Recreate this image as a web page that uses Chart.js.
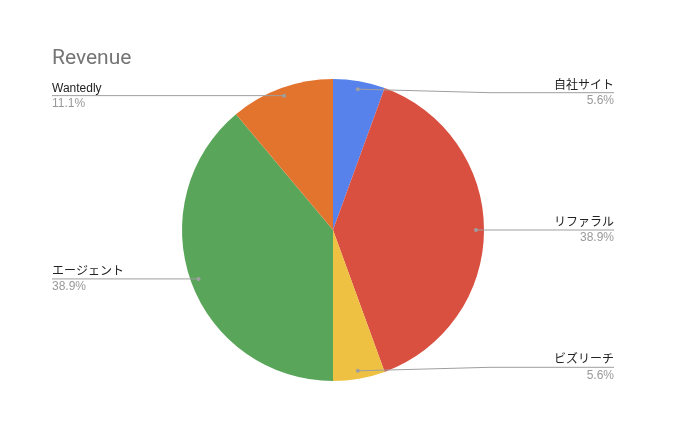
<!DOCTYPE html>
<html>
<head>
<meta charset="utf-8">
<script src="https://cdn.jsdelivr.net/npm/chart.js@4/dist/chart.umd.min.js"></script>
<style>
html,body{margin:0;padding:0;background:#fff;}
#wrap{width:680px;height:440px;position:relative;}
</style>
</head>
<body>
<div id="wrap"><canvas id="c" width="680" height="440"></canvas></div>
<script>
const titleText = 'Revenue';
const categories = ['自社サイト', 'リファラル', 'ビズリーチ', 'エージェント', 'Wantedly'];
const values = [1, 7, 1, 7, 2];
const colors = ['#5882eb', '#da5040', '#eec143', '#59a65b', '#e2742e'];

const FONT = 'Arial, "Liberation Sans", "Noto Sans CJK JP", sans-serif';

const labelPlugin = {
  id: 'sheetLabels',
  afterDraw(chart) {
    const ctx = chart.ctx;
    const meta = chart.getDatasetMeta(0);
    const total = values.reduce((a, b) => a + b, 0);
    // title
    ctx.save();
    ctx.font = '21px Roboto, Arial, sans-serif';
    ctx.fillStyle = '#757575';
    ctx.textBaseline = 'alphabetic';
    ctx.textAlign = 'left';
    ctx.fillText(titleText, 52, 64);
    ctx.restore();

    meta.data.forEach((arc, i) => {
      const p = arc.getProps(['x', 'y', 'startAngle', 'endAngle', 'outerRadius'], true);
      const mid = (p.startAngle + p.endAngle) / 2;
      const r = p.outerRadius * 0.947;
      const dx = Math.cos(mid) * r, dy = Math.sin(mid) * r;
      const dotX = p.x + dx, dotY = p.y + dy;
      const right = dx >= 0;
      const lineY = right ? p.y + dy * 0.975 : dotY;
      const endX = right ? 614 : 52;
      const kneeX = right ? 490 : 176;
      ctx.save();
      ctx.strokeStyle = '#9e9e9e';
      ctx.lineWidth = 1;
      ctx.beginPath();
      ctx.moveTo(dotX, dotY);
      ctx.lineTo(kneeX, lineY);
      ctx.lineTo(endX, lineY);
      ctx.stroke();
      ctx.fillStyle = '#9e9e9e';
      ctx.beginPath();
      ctx.arc(dotX, dotY, 2, 0, Math.PI * 2);
      ctx.fill();
      ctx.textAlign = right ? 'right' : 'left';
      ctx.font = '12px ' + FONT;
      ctx.fillStyle = '#222222';
      ctx.textBaseline = 'alphabetic';
      ctx.fillText(categories[i], endX, lineY - 4);
      ctx.fillStyle = '#999999';
      ctx.textBaseline = 'top';
      const pct = (values[i] / total * 100).toFixed(1) + '%';
      ctx.fillText(pct, endX, lineY + 2);
      ctx.restore();
    });
  }
};

new Chart(document.getElementById('c'), {
  type: 'pie',
  data: {
    labels: categories,
    datasets: [{
      data: values,
      backgroundColor: colors,
      borderWidth: 0
    }]
  },
  options: {
    responsive: false,
    animation: false,
    layout: { padding: { left: 182, right: 196, top: 79, bottom: 59 } },
    plugins: {
      legend: { display: false },
      tooltip: { enabled: false },
      title: { display: false }
    }
  },
  plugins: [labelPlugin]
});
</script>
</body>
</html>
